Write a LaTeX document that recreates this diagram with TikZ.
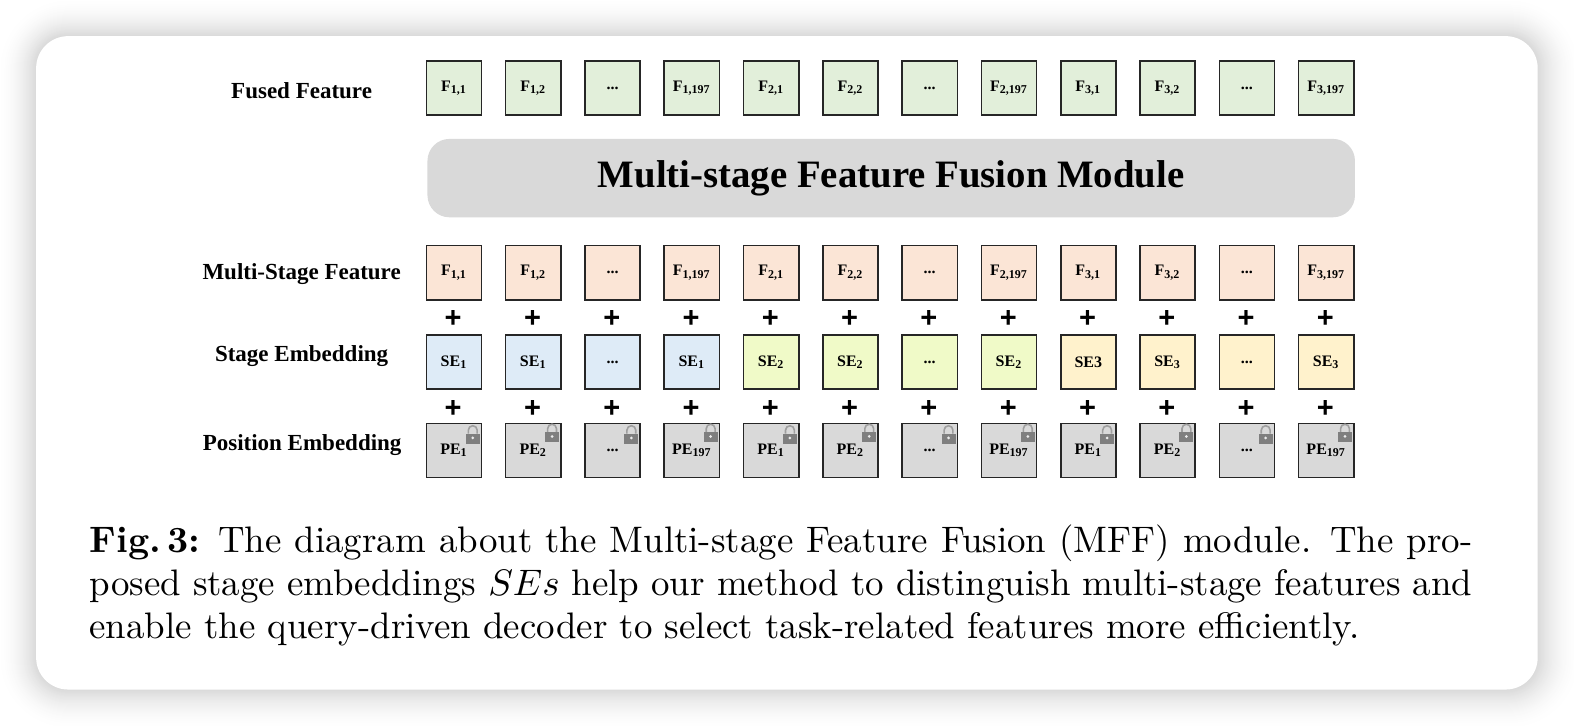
\documentclass[tikz,border=0pt]{standalone}
\usepackage{fontspec}
\newfontfamily\timesb{Liberation Serif}
\newfontfamily\arialb{Liberation Sans}
\definecolor{cgreen}{HTML}{E2EFDA}
\definecolor{cpeach}{HTML}{FBE5D6}
\definecolor{cblue}{HTML}{DEEBF7}
\definecolor{clime}{HTML}{F0FAC8}
\definecolor{cyellow}{HTML}{FFF2CC}
\definecolor{cgray}{HTML}{D9D9D9}
\definecolor{clock}{HTML}{7F7F7F}
\tikzset{
  cell/.style={draw=black!85,line width=0.8pt,minimum width=27.6pt,minimum height=27.1pt,inner sep=0pt,anchor=north west,font=\timesb\bfseries\fontsize{8}{9}\selectfont},
  rowlabel/.style={inner sep=0pt,anchor=base,font=\timesb\bfseries\fontsize{11.5}{12}\selectfont},
  plusmark/.style={inner sep=0pt,font=\arialb\bfseries\fontsize{14.5}{15}\selectfont},
}
\begin{document}
\begin{tikzpicture}[x=0.50191pt,y=-0.50191pt]
\useasboundingbox (0,0) rectangle (1568.2,723.3);
\fill[white] (0,0) rectangle (1568.2,723.3);
% soft shadow
\foreach \i in {38,37,...,1}{
  \pgfmathsetmacro{\shade}{14*(1-\i/39)*(1-\i/39)+1*(1-\i/39)}
  \fill[black!\shade!white,rounded corners=16+\i*0.5 pt]
    ({36-\i*0.97},{36-\i*0.97}) rectangle ({1532+\i*1.1},{687+\i*1.03});
}
\fill[white,rounded corners=16pt] (36,36) rectangle (1532,687);
% rows
\node[rowlabel] (lfused) at (300.5,98) {Fused Feature};
\node[rowlabel] (lmulti) at (300.5,278) {Multi-Stage Feature};
\node[rowlabel] (lstage) at (300.5,360) {Stage Embedding};
\node[rowlabel] (lpos) at (301,449) {Position Embedding};
\foreach \n/\x/\a in {1/424/{F\textsubscript{1,1}},2/503/{F\textsubscript{1,2}},3/582/{...},4/661/{F\textsubscript{1,197}},5/740/{F\textsubscript{2,1}},6/819/{F\textsubscript{2,2}},7/898/{...},8/977/{F\textsubscript{2,197}},9/1056/{F\textsubscript{3,1}},10/1135/{F\textsubscript{3,2}},11/1214/{...},12/1293/{F\textsubscript{3,197}}}{
  \node[cell,fill=cgreen] (fu\n) at (\x,60) {\a};
  \node[cell,fill=cpeach] (ms\n) at (\x,244) {\a};
  \node[plusmark] (pa\n) at (\x+27.5,318) {+};
  \node[plusmark] (pb\n) at (\x+27.5,407) {+};
}
\foreach \n/\x/\c/\a in {1/424/cblue/{SE\textsubscript{1}},2/503/cblue/{SE\textsubscript{1}},3/582/cblue/{...},4/661/cblue/{SE\textsubscript{1}},5/740/clime/{SE\textsubscript{2}},6/819/clime/{SE\textsubscript{2}},7/898/clime/{...},8/977/clime/{SE\textsubscript{2}},9/1056/cyellow/{SE3},10/1135/cyellow/{SE\textsubscript{3}},11/1214/cyellow/{...},12/1293/cyellow/{SE\textsubscript{3}}}{
  \node[cell,fill=\c] (se\n) at (\x,333) {\a};
}
\foreach \n/\x/\a/\ly in {1/424/{PE\textsubscript{1}}/0,2/503/{PE\textsubscript{2}}/-1.5,3/582/{...}/0,4/661/{PE\textsubscript{197}}/-1.5,5/740/{PE\textsubscript{1}}/0,6/819/{PE\textsubscript{2}}/-1.5,7/898/{...}/0,8/977/{PE\textsubscript{197}}/-1.5,9/1056/{PE\textsubscript{1}}/0,10/1135/{PE\textsubscript{2}}/-1.5,11/1214/{...}/0,12/1293/{PE\textsubscript{197}}/-1.5}{
  \node[cell,fill=cgray] (pe\n) at (\x,421) {\raisebox{-1.5pt}{\a}};
  % lock icon
  \begin{scope}[shift={(pe\n.north east)},xshift=-4.8pt,yshift={-(11+\ly)*0.5pt}]
    \draw[clock!75,line width=0.8pt] (-4.4,0) -- (-4.4,-3.4) arc[start angle=180,end angle=360,x radius=4.4,y radius=4.4] -- (4.4,0);
    \fill[clock] (-7,0) rectangle (7,10);
    \fill[white!85!clock] (0,4.4) circle[radius=1.5];
  \end{scope}
}
% module
\node[fill=cgray,rounded corners=11pt,minimum width=463.8pt,minimum height=39.2pt,inner sep=0pt,anchor=north west,font=\timesb\bfseries\fontsize{19.4}{21}\selectfont] (mff) at (425.5,138) {\raisebox{2.5pt}{Multi-stage Feature Fusion Module}};
% caption
\node[anchor=north west,inner sep=0pt,scale=1.845,text width=374.8pt,align=justify,font=\fontsize{10}{11.7}\selectfont] (cap) at (88.5,522)
  {\textbf{Fig.\,3:} The diagram about the Multi-stage Feature Fusion (MFF) module. The pro-\linebreak posed stage embeddings $SEs$ help our method to distinguish multi-stage features and\linebreak enable the query-driven decoder to select task-related features more efficiently.\hfill\null};
\end{tikzpicture}
\end{document}
